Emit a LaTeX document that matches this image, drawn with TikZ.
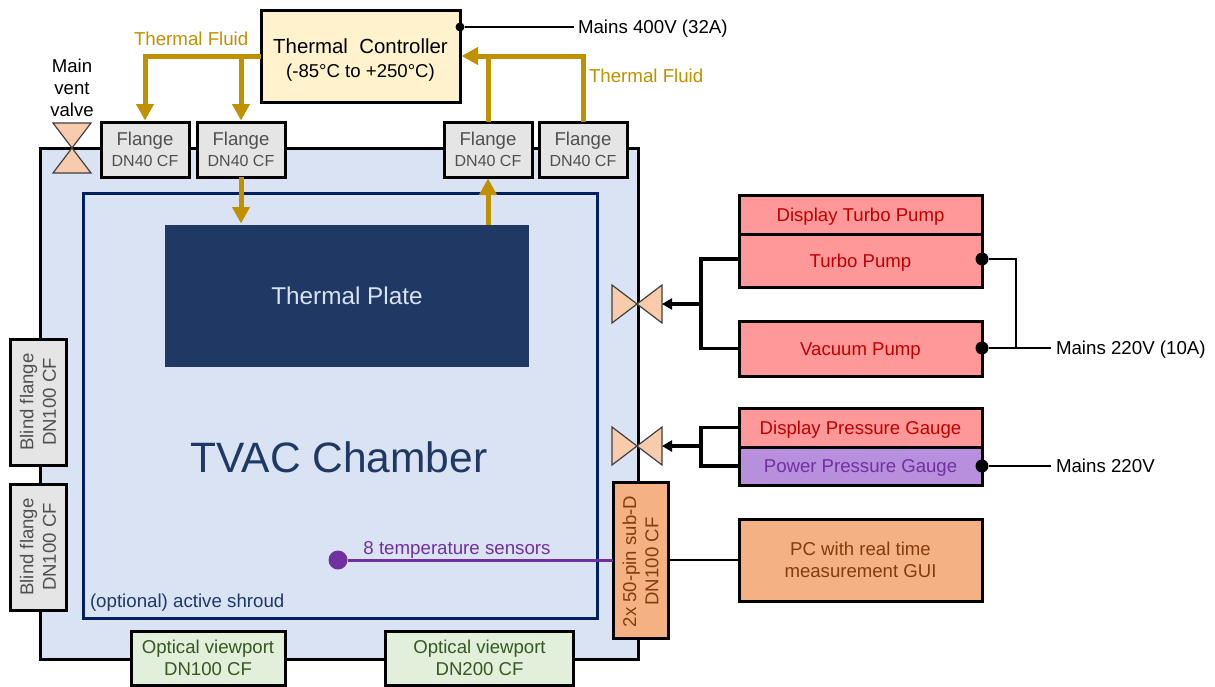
\documentclass[tikz,border=0pt]{standalone}
\usepackage{fontspec}
\setmainfont{Liberation Sans}
\usetikzlibrary{arrows.meta}
\definecolor{gold}{HTML}{BF9000}
\definecolor{navy}{HTML}{002060}
\definecolor{deep}{HTML}{1F3864}
\definecolor{chamberfill}{HTML}{DAE3F3}
\definecolor{platetext}{HTML}{D9E2F3}
\definecolor{creamfill}{HTML}{FFF2CC}
\definecolor{greyfill}{HTML}{E5E5E5}
\definecolor{greytext}{HTML}{505050}
\definecolor{redfill}{HTML}{FF9999}
\definecolor{redtext}{HTML}{C00000}
\definecolor{purpfill}{HTML}{B88FDD}
\definecolor{purp}{HTML}{7030A0}
\definecolor{orangefill}{HTML}{F4B183}
\definecolor{browntext}{HTML}{843C0C}
\definecolor{greenfill}{HTML}{E2EFDA}
\definecolor{greentext}{HTML}{385723}
\definecolor{valvefill}{HTML}{F8CBAD}
\newcommand{\fs}[2]{\fontsize{#1}{#2}\selectfont}
\tikzset{
  box/.style={draw=black,line width=3pt,inner sep=0pt,outer sep=0pt,align=center,font=\fs{18.6}{22.3}},
  oneline/.style={text height=13pt,text depth=0pt},
  flangebox/.style={box,fill=greyfill,text=greytext,minimum width=88pt,minimum height=55pt,font=\fs{18.6}{20.5}},
  blindbox/.style={box,fill=greyfill,text=greytext,minimum width=126pt,minimum height=56pt},
  redbox/.style={box,oneline,fill=redfill,text=redtext,minimum width=243pt},
  viewbox/.style={box,fill=greenfill,text=greentext,minimum height=54pt},
  fluid/.style={draw=gold,line width=5pt},
  fluidarrow/.style={fluid,-{Triangle[length=16.5pt,width=17pt]},shorten >=1.5pt},
  wirethick/.style={draw=black,line width=3.4pt},
  wirethin/.style={draw=black,line width=2.2pt},
  dotnode/.style={circle,fill=black,inner sep=0pt,outer sep=0pt,minimum size=#1},
  lab/.style={inner sep=0pt,outer sep=0pt,font=\fs{18.7}{22}},
  valveshape/.style={draw=black!75,fill=valvefill,line width=1.2pt,line join=miter},
}
\begin{document}
\begin{tikzpicture}[x=1pt,y=-1pt]
\useasboundingbox (0,0) rectangle (1215,686);
% chamber
\node[draw=black,line width=3pt,fill=chamberfill,inner sep=0pt,outer sep=0pt,minimum width=598pt,minimum height=511pt] (chamber) at (339,403.5) {};
\node[draw=navy,line width=3pt,inner sep=0pt,outer sep=0pt,minimum width=514pt,minimum height=425pt] (shroud) at (340,405.5) {};
\node[fill=deep,text=platetext,inner sep=0pt,outer sep=0pt,minimum width=364pt,minimum height=142pt,font=\fs{24.3}{28}] (plate) at (347,296) {Thermal Plate};
\node[lab,text=deep,font=\fs{42.5}{48}] (title) at (339,457) {TVAC Chamber};
\node[lab,oneline,text=deep,anchor=west] (shroudlab) at (90,601) {(optional) active shroud};
% boxes
\node[box,fill=creamfill,minimum width=199pt,minimum height=92pt] (tc) at (360.5,56) {\rule{0pt}{23pt}{\fs{20.4}{24}Thermal\ \ Controller}\\[2pt](-85°C to +250°C)};
\node[flangebox] (f1) at (145,149.5) {Flange\\{\fs{16}{20}DN40 CF}};
\node[flangebox] (f2) at (241,149.5) {Flange\\{\fs{16}{20}DN40 CF}};
\node[flangebox] (f3) at (488,149.5) {Flange\\{\fs{16}{20}DN40 CF}};
\node[flangebox] (f4) at (583,149.5) {Flange\\{\fs{16}{20}DN40 CF}};
\node[blindbox,rotate=90] (b1) at (38,402) {Blind flange\\DN100 CF};
\node[blindbox,rotate=90] (b2) at (38,547) {Blind flange\\DN100 CF};
\node[viewbox,minimum width=154pt] (v1) at (208,658) {Optical viewport\\DN100 CF};
\node[viewbox,minimum width=188pt] (v2) at (479.5,658) {Optical viewport\\DN200 CF};
\node[box,fill=orangefill,text=browntext,minimum width=156pt,minimum height=55pt,rotate=90] (subd) at (640.5,560) {2x 50-pin sub-D\hspace*{3pt}\\DN100 CF\hspace*{3pt}};
\node[redbox,minimum height=39pt] (dtp) at (860.5,214.5) {Display Turbo Pump};
\node[redbox,minimum height=53pt] (tp) at (860.5,260.5) {Turbo Pump};
\node[redbox,minimum height=55pt] (vp) at (860.5,348.5) {Vacuum Pump};
\node[redbox,minimum height=39pt] (dpg) at (860.5,427.5) {Display Pressure Gauge};
\node[box,oneline,fill=purpfill,text=purp,minimum width=243pt,minimum height=38pt] (ppg) at (860.5,466) {Power Pressure Gauge};
\node[box,fill=orangefill,text=browntext,minimum width=243pt,minimum height=82pt] (pc) at (860.5,560) {PC with real time\\measurement GUI};
% valves
\coordinate (mv) at (72,148);
\filldraw[valveshape] (53,123) -- (91,123) -- (mv) -- cycle;
\filldraw[valveshape] (53,173) -- (91,173) -- (mv) -- cycle;
\coordinate (va) at (637,304);
\coordinate (vae) at (662,304);
\filldraw[valveshape] (612,285) -- (612,323) -- (va) -- cycle;
\filldraw[valveshape] (662,285) -- (662,323) -- (va) -- cycle;
\coordinate (vb) at (637,446);
\coordinate (vbe) at (662,446);
\filldraw[valveshape] (612,427) -- (612,465) -- (vb) -- cycle;
\filldraw[valveshape] (662,427) -- (662,465) -- (vb) -- cycle;
\node[lab,font=\fs{18.6}{22.3},align=center] (mvlab) at (72,88) {Main\\vent\\valve};
% fluid lines
\draw[fluidarrow] (tc.west) -| (f1.north);
\draw[fluidarrow] (f2.north |- tc.west) -- (f2.north);
\draw[fluidarrow] (f2.south) -- (f2.south |- plate.north);
\draw[fluidarrow] (f3.south |- plate.north) -- (f3.south);
\draw[fluid] (f3.north) -- (f3.north |- tc.east);
\draw[fluidarrow] (f4.north) |- (tc.east);
\node[lab,oneline,text=gold,anchor=west] (tf1) at (134,39) {Thermal Fluid};
\node[lab,oneline,text=gold,anchor=west] (tf2) at (589,76) {Thermal Fluid};
% power
\node[lab,oneline,anchor=west] (m400) at (578,27) {Mains 400V (32A)};
\node[dotnode=9pt] (d400) at (460,27) {};
\draw[wirethin] (d400) -- ([xshift=-4pt]m400.west);
\node[lab,oneline,anchor=west] (m220a) at (1056,348) {Mains 220V (10A)};
\node[lab,oneline,anchor=west] (m220b) at (1056,466) {Mains 220V};
\node[dotnode=13pt] (dt) at (982,259) {};
\node[dotnode=13pt] (dv) at (982,348) {};
\node[dotnode=13pt] (dp) at (982,466) {};
\coordinate (jm) at (1016,348);
\draw[wirethin] (dv) -- ([xshift=-5pt]m220a.west);
\draw[wirethin] (dt) -| (jm);
\draw[wirethin] (dp) -- ([xshift=-5pt]m220b.west);
% vacuum lines
\coordinate (j1) at (701,304);
\coordinate (j2) at (701,446);
\draw[wirethick,line join=miter] ([yshift=1.5pt]tp.west) -| (j1) |- (vp.west);
\draw[wirethick,-{Triangle[length=10pt,width=11pt]}] (j1) -- (vae);
\draw[wirethick,line join=miter] (dpg.west) -| (j2) |- (ppg.west);
\draw[wirethick,-{Triangle[length=10pt,width=11pt]}] (j2) -- (vbe);
% sensors and PC
\node[dotnode=19pt,fill=purp] (sens) at (338,560) {};
\draw[draw=purp,line width=3pt] (sens) -- (subd.north |- sens);
\node[lab,oneline,text=purp] (senslab) at (457,548) {8 temperature sensors};
\draw[wirethin] (subd.south |- pc.west) -- (pc.west);
\end{tikzpicture}
\end{document}
